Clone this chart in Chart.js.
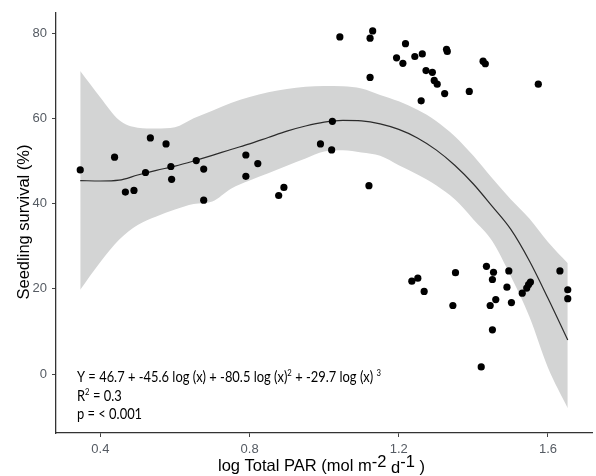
<!DOCTYPE html>
<html>
<head>
<meta charset="utf-8">
<script src="https://cdn.jsdelivr.net/npm/chart.js@4.4.1/dist/chart.umd.min.js"></script>
<style>
  html, body { margin: 0; padding: 0; background: #fff; }
</style>
</head>
<body>
<canvas id="chart" width="596" height="476"></canvas>
<script>
// observed seedlings: log total PAR vs survival (%)
const parX = [0.346, 0.438, 0.467, 0.490, 0.534, 0.521, 0.576, 0.589, 0.591, 0.657,
  0.677, 0.677, 0.790, 0.822, 0.790, 0.892, 0.878, 0.990, 1.020, 1.022,
  1.042, 1.130, 1.123, 1.123, 1.120, 1.194, 1.218, 1.211, 1.243, 1.263,
  1.328, 1.330, 1.273, 1.290, 1.295, 1.303, 1.323, 1.260, 1.389, 1.426,
  1.432, 1.574, 1.235, 1.251, 1.268, 1.352, 1.345, 1.435, 1.454, 1.451,
  1.495, 1.490, 1.460, 1.445, 1.502, 1.451, 1.421, 1.531, 1.543, 1.548,
  1.553, 1.632, 1.653, 1.653];
const survival = [47.9, 50.9, 42.7, 43.1, 55.4, 47.3, 54.0, 48.7, 45.7, 50.1,
  48.1, 40.8, 51.4, 49.4, 46.4, 43.8, 41.9, 54.0, 52.6, 59.3,
  79.1, 80.5, 78.8, 69.6, 44.2, 74.2, 77.5, 72.9, 74.5, 75.1,
  76.2, 75.7, 71.2, 70.8, 68.9, 68.0, 65.8, 64.1, 66.3, 73.4,
  72.8, 68.0, 21.8, 22.5, 19.4, 23.8, 16.1, 25.3, 23.9, 22.2,
  24.2, 20.4, 17.5, 16.1, 16.8, 10.4, 1.7, 19.0, 20.2, 21.0,
  21.6, 24.2, 19.8, 17.7];

// fitted curve and confidence band
const fitX = [0.346, 0.40, 0.45, 0.50, 0.55, 0.60, 0.65, 0.70, 0.75, 0.80, 0.85, 0.90, 0.95, 1.00,
  1.05, 1.10, 1.15, 1.20, 1.25, 1.30, 1.35, 1.40, 1.45, 1.50, 1.55, 1.60, 1.653];
const fitY = [45.4, 45.3, 45.5, 46.7, 47.8, 48.8, 50.0, 51.3, 52.7, 54.0, 55.5, 57.0, 58.2, 59.1,
  59.5, 59.4, 58.7, 57.4, 55.4, 52.6, 49.0, 44.6, 39.4, 34.0, 26.6, 17.8, 8.0];
const ciUpper = [71.1, 64.9, 59.6, 57.8, 57.6, 57.9, 60.0, 61.8, 63.6, 65.0, 66.1, 66.9, 67.4, 67.6,
  67.5, 67.0, 65.5, 64.0, 62.0, 59.4, 55.8, 51.2, 46.0, 41.0, 36.5, 31.0, 26.0];
const ciLower = [19.8, 26.3, 31.5, 35.0, 37.0, 38.6, 39.9, 40.5, 43.5, 45.4, 47.1, 48.9, 50.6, 52.2,
  52.5, 52.0, 51.2, 49.0, 46.8, 44.3, 41.0, 36.3, 31.3, 23.0, 13.5, 1.5, -8.0];

const xTicks = [0.4, 0.8, 1.2, 1.6];
const yTicks = [0, 20, 40, 60, 80];

const pts = (xs, ys) => xs.map((x, i) => ({ x: x, y: ys[i] }));

const tickColor = '#555b63';
const bandColor = '#d3d4d4';

// titles + equation drawn by hand so superscripts sit right
const textPlugin = {
  id: 'texts',
  afterDraw(chart) {
    const ctx = chart.ctx;
    ctx.save();
    ctx.fillStyle = '#000';
    ctx.textBaseline = 'alphabetic';

    // y title
    ctx.save();
    ctx.translate(29, 222);
    ctx.rotate(-Math.PI / 2);
    ctx.font = '16.5px "Liberation Sans", Arial, sans-serif';
    ctx.textAlign = 'center';
    ctx.fillText('Seedling survival (%)', 0, 0);
    ctx.restore();

    // x title
    ctx.font = '16.5px "Liberation Sans", Arial, sans-serif';
    ctx.textAlign = 'left';
    let x = 218;
    const parts = [['log Total PAR (mol m', 471], ['-2', 467], [' d', 473], ['-1', 467], [' )', 472]];
    parts.forEach(p => {
      ctx.fillText(p[0], x, p[1]);
      x += ctx.measureText(p[0]).width;
    });

    // equation block
    const base = '15px Lato, "Open Sans", sans-serif';
    const sup = '9px Lato, "Open Sans", sans-serif';
    const lines = [
      [[base, 'Y = 46.7 + -45.6 log (x) + -80.5 log (x)', 0], [sup, '2', -6], [base, ' + -29.7 log (x) ', 0], [sup, '3', -6]],
      [[base, 'R', 0], [sup, '2', -6], [base, ' = 0.3', 0]],
      [[base, 'p = < 0.001', 0]]
    ];
    const widthOf = segs => segs.reduce((w, s) => { ctx.font = s[0]; return w + ctx.measureText(s[1]).width; }, 0);
    const sx = 304 / widthOf(lines[0]);
    const baselines = [381.5, 401, 419];
    lines.forEach((segs, i) => {
      ctx.save();
      ctx.translate(77, baselines[i]);
      ctx.scale(sx, 1);
      let cx = 0;
      segs.forEach(s => {
        ctx.font = s[0];
        ctx.fillText(s[1], cx, s[2]);
        cx += ctx.measureText(s[1]).width;
      });
      ctx.restore();
    });
    ctx.restore();
  }
};

new Chart(document.getElementById('chart'), {
  type: 'line',
  data: {
    datasets: [
      {
        label: 'points',
        data: pts(parX, survival),
        showLine: false,
        pointRadius: 3.6,
        pointBackgroundColor: '#000',
        pointBorderWidth: 0,
        order: 0
      },
      {
        label: 'fit',
        data: pts(fitX, fitY),
        borderColor: '#2b2b2b',
        borderWidth: 1.2,
        pointRadius: 0,
        cubicInterpolationMode: 'monotone',
        fill: false,
        order: 1
      },
      {
        label: 'upper',
        data: pts(fitX, ciUpper),
        borderWidth: 0,
        borderColor: bandColor,
        backgroundColor: bandColor,
        pointRadius: 0,
        cubicInterpolationMode: 'monotone',
        fill: '+1',
        order: 2
      },
      {
        label: 'lower',
        data: pts(fitX, ciLower),
        borderWidth: 0,
        borderColor: bandColor,
        pointRadius: 0,
        cubicInterpolationMode: 'monotone',
        fill: false,
        order: 3
      }
    ]
  },
  options: {
    responsive: false,
    animation: false,
    layout: { padding: { top: 12, right: 3, left: 0, bottom: 0 } },
    plugins: { legend: { display: false }, tooltip: { enabled: false } },
    scales: {
      x: {
        type: 'linear',
        min: 0.281,
        max: 1.718,
        afterBuildTicks: s => { s.ticks = xTicks.map(v => ({ value: v })); },
        afterFit: s => { s.height = 43; },
        grid: { drawOnChartArea: false, drawTicks: true, tickLength: 4, color: '#444' },
        border: { color: '#333', width: 1.3 },
        ticks: { color: tickColor, padding: 5, font: { family: '"Liberation Sans", Arial', size: 13 } }
      },
      y: {
        min: -13.8,
        max: 84.75,
        afterBuildTicks: s => { s.ticks = yTicks.map(v => ({ value: v })); },
        afterFit: s => { s.width = 56; },
        grid: { drawOnChartArea: false, drawTicks: true, tickLength: 4, color: '#444' },
        border: { color: '#333', width: 1.3 },
        ticks: { color: tickColor, padding: 5, font: { family: '"Liberation Sans", Arial', size: 13 } }
      }
    }
  },
  plugins: [textPlugin]
});
</script>
</body>
</html>
